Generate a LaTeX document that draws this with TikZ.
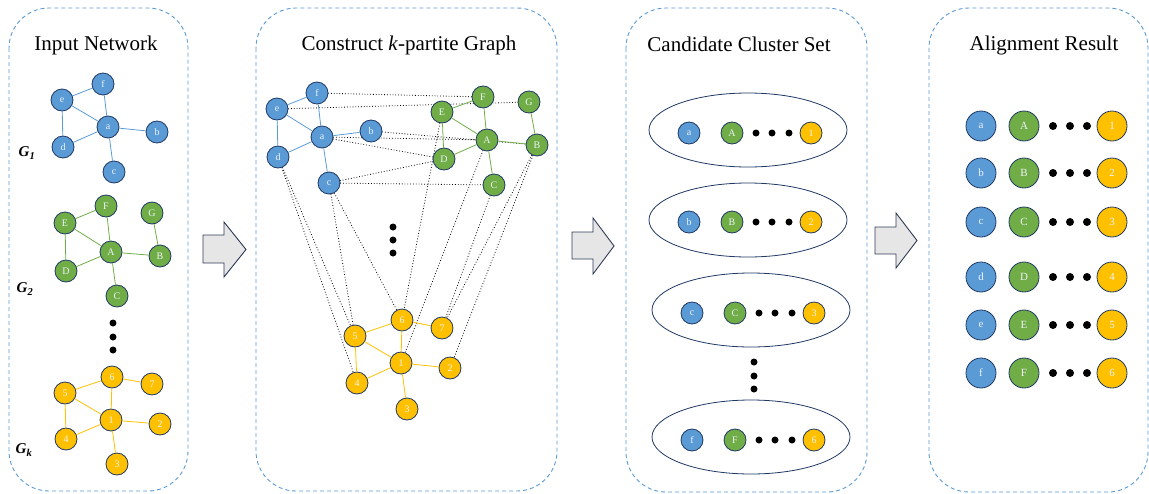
\documentclass[tikz,border=0pt]{standalone}
\usepackage{fontspec}
\setmainfont{Liberation Serif}
\usetikzlibrary{shapes.geometric,backgrounds}
\definecolor{nblue}{HTML}{5B9BD5}
\definecolor{ngreen}{HTML}{70AD47}
\definecolor{nyellow}{HTML}{FFC000}
\definecolor{navy}{HTML}{203864}
\definecolor{pborder}{HTML}{5B9BD5}
\definecolor{agray}{HTML}{E7E6E6}
\definecolor{aborder}{HTML}{2F3B57}
\definecolor{ltext}{HTML}{EEF3FA}
\tikzset{
  panel/.style={draw=pborder, line width=0.9pt, dash pattern=on 4pt off 3pt, rounded corners=40pt},
  title/.style={font=\fontsize{21}{24}\selectfont, inner sep=0pt},
  gl/.style={font=\fontsize{15}{18}\selectfont\bfseries\itshape, inner sep=0pt},
  nd/.style={circle, draw=navy, line width=0.8pt, minimum size=22pt, inner sep=0pt, text=ltext, font=\fontsize{10}{10}\selectfont},
  bn/.style={nd, fill=nblue}, gn/.style={nd, fill=ngreen}, yn/.style={nd, fill=nyellow},
  ndl/.style={nd, minimum size=30pt, font=\fontsize{11}{11}\selectfont},
  bnl/.style={ndl, fill=nblue}, gnl/.style={ndl, fill=ngreen}, ynl/.style={ndl, fill=nyellow},
  be/.style={draw=nblue, line width=0.8pt},
  ge/.style={draw=ngreen, line width=0.8pt},
  ye/.style={draw=nyellow, line width=0.8pt},
  link/.style={draw=black, dotted, line width=0.8pt},
  dotn/.style={circle, fill=black, minimum size=7pt, inner sep=0pt},
  dotl/.style={circle, fill=black, minimum size=8pt, inner sep=0pt},
  clus/.style={ellipse, draw=navy, line width=0.8pt, minimum width=198pt, minimum height=74pt},
  barrow/.style={draw=aborder, fill=agray, line width=0.9pt, line join=miter}
}
\begin{document}
\begin{tikzpicture}[x=1pt,y=-1pt]
\useasboundingbox (0,0) rectangle (1149,493);
% panels
\draw[panel] (9,8) rectangle (188,491);
\draw[panel] (256,8) rectangle (557,491);
\draw[panel] (626,8) rectangle (867,492);
\draw[panel] (929,8) rectangle (1148,492);
% titles
\node[title] (t1) at (96,45) {Input Network};
\node[title] (t2) at (409,45) {Construct \textit{k}-partite Graph};
\node[title] (t3) at (739,44) {Candidate Cluster Set};
\node[title] (t4) at (1044,45) {Alignment Result};
% block arrows
\draw[barrow] (203,235) -- (224,235) -- (224,222) -- (246,249.5) -- (224,277) -- (224,263) -- (203,263) -- cycle;
\draw[barrow] (572,232) -- (593,232) -- (593,218) -- (614,246) -- (593,274) -- (593,259) -- (572,259) -- cycle;
\draw[barrow] (875,227) -- (896,227) -- (896,213) -- (917,240.5) -- (896,268) -- (896,254) -- (875,254) -- cycle;

% ---------- Panel 1 ----------
\node[gl] (g1) at (27,153) {G\textsubscript{1}};
\node[gl] (g2) at (25,289) {G\textsubscript{2}};
\node[gl] (gk) at (24,450) {G\textsubscript{k}};
% G1
\node[bn] (p1f) at (103,84) {f};
\node[bn] (p1e) at (62,100) {e};
\node[bn] (p1a) at (108,127) {a};
\node[bn] (p1b) at (157,132) {b};
\node[bn] (p1d) at (63,147) {d};
\node[bn] (p1c) at (114,172) {c};
% G2
\node[gn] (p1F) at (106,206) {F};
\node[gn] (p1G) at (152,213) {G};
\node[gn] (p1E) at (65,223) {E};
\node[gn] (p1A) at (111,252) {A};
\node[gn] (p1B) at (160,256) {B};
\node[gn] (p1D) at (66,271) {D};
\node[gn] (p1C) at (117,296) {C};
% dots
\node[dotn] (p1d1) at (113,323) {};
\node[dotn] (p1d2) at (113,337) {};
\node[dotn] (p1d3) at (113,350) {};
% Gk
\node[yn] (p16) at (112,377) {6};
\node[yn] (p17) at (152,384) {7};
\node[yn] (p15) at (65,393) {5};
\node[yn] (p11) at (111,420) {1};
\node[yn] (p12) at (160,424) {2};
\node[yn] (p14) at (66,439) {4};
\node[yn] (p13) at (117,464) {3};
\draw[be] (p1e)--(p1f) (p1e)--(p1a) (p1e)--(p1d) (p1f)--(p1a) (p1a)--(p1b) (p1a)--(p1d) (p1a)--(p1c);
\draw[ge] (p1E)--(p1F) (p1E)--(p1A) (p1E)--(p1D) (p1F)--(p1A) (p1G)--(p1B) (p1A)--(p1B) (p1A)--(p1D) (p1A)--(p1C);
\draw[ye] (p15)--(p16) (p16)--(p17) (p16)--(p11) (p15)--(p11) (p15)--(p14) (p14)--(p11) (p11)--(p12) (p11)--(p13);

% ---------- Panel 2 ----------
\node[bn] (qf) at (317,93) {f};
\node[bn] (qe) at (277,109) {e};
\node[bn] (qa) at (322,137) {a};
\node[bn] (qb) at (371,131) {b};
\node[bn] (qd) at (278,157) {d};
\node[bn] (qc) at (329,183) {c};
\node[gn] (qF) at (483,97) {F};
\node[gn] (qG) at (529,102) {G};
\node[gn] (qE) at (442,112) {E};
\node[gn] (qA) at (487,140) {A};
\node[gn] (qB) at (537,145) {B};
\node[gn] (qD) at (444,159) {D};
\node[gn] (qC) at (494,185) {C};
\node[yn] (q6) at (402,320) {6};
\node[yn] (q7) at (442,328) {7};
\node[yn] (q5) at (355,336) {5};
\node[yn] (q1) at (401,363) {1};
\node[yn] (q2) at (450,368) {2};
\node[yn] (q4) at (357,383) {4};
\node[yn] (q3) at (407,409) {3};
\node[dotn] (qd1) at (393,227) {};
\node[dotn] (qd2) at (393,240) {};
\node[dotn] (qd3) at (393,253) {};
\begin{scope}[on background layer]
\draw[link] (qf.center)--(qF.center) (qe.center)--(qG.center) (qb.center)--(qB.center) (qa.center)--(qA.center)
  (qa.center)--(qD.center) (qc.center)--(qD.center) (qc.center)--(qC.center)
  (qd.center)--(q4.center) (qd.center)--(q5.center) (qc.center)--(q5.center) (qc.center)--(q6.center)
  (qE.center)--(q6.center) (qA.center)--(q1.center) (qC.center)--(q7.center) (qB.center)--(q7.center) (qB.center)--(q2.center);
\end{scope}
\draw[be] (qe)--(qf) (qe)--(qa) (qe)--(qd) (qf)--(qa) (qa)--(qb) (qa)--(qd) (qa)--(qc);
\draw[ge] (qE)--(qF) (qE)--(qA) (qE)--(qD) (qF)--(qA) (qG)--(qB) (qA)--(qB) (qA)--(qD) (qA)--(qC);
\draw[ye] (q5)--(q6) (q6)--(q7) (q6)--(q1) (q5)--(q1) (q5)--(q4) (q4)--(q1) (q1)--(q2) (q1)--(q3);

% ---------- Panel 3 ----------
\node[clus] (cl1) at (748,130) {};
\node[clus] (cl2) at (748,220) {};
\node[clus] (cl3) at (751,310) {};
\node[clus] (cl4) at (751,437) {};
\foreach \i/\dx/\y/\lb/\ub/\yb in {1/0/133/a/A/1, 2/0/222/b/B/2, 3/3/313/c/C/3, 4/3/440/f/F/6}{
  \node[bn] (cb\i) at (689+\dx,\y) {\lb};
  \node[gn] (cg\i) at (732+\dx,\y) {\ub};
  \node[dotn] (cda\i) at (756+\dx,\y) {};
  \node[dotn] (cdb\i) at (772+\dx,\y) {};
  \node[dotn] (cdc\i) at (789+\dx,\y) {};
  \node[yn] (cy\i) at (811+\dx,\y) {\yb};
}
\node[dotn] (cv1) at (754,362) {};
\node[dotn] (cv2) at (754,376) {};
\node[dotn] (cv3) at (754,389) {};

% ---------- Panel 4 ----------
\foreach \i/\y/\lb/\ub/\yb in {1/126/a/A/1, 2/173/b/B/2, 3/222/c/C/3, 4/277/d/D/4, 5/325/e/E/5, 6/373/f/F/6}{
  \node[bnl] (rb\i) at (981,\y) {\lb};
  \node[gnl] (rg\i) at (1024,\y) {\ub};
  \node[dotl] (rda\i) at (1053,\y) {};
  \node[dotl] (rdb\i) at (1070,\y) {};
  \node[dotl] (rdc\i) at (1087,\y) {};
  \node[ynl] (ry\i) at (1112,\y) {\yb};
}
\end{tikzpicture}
\end{document}
